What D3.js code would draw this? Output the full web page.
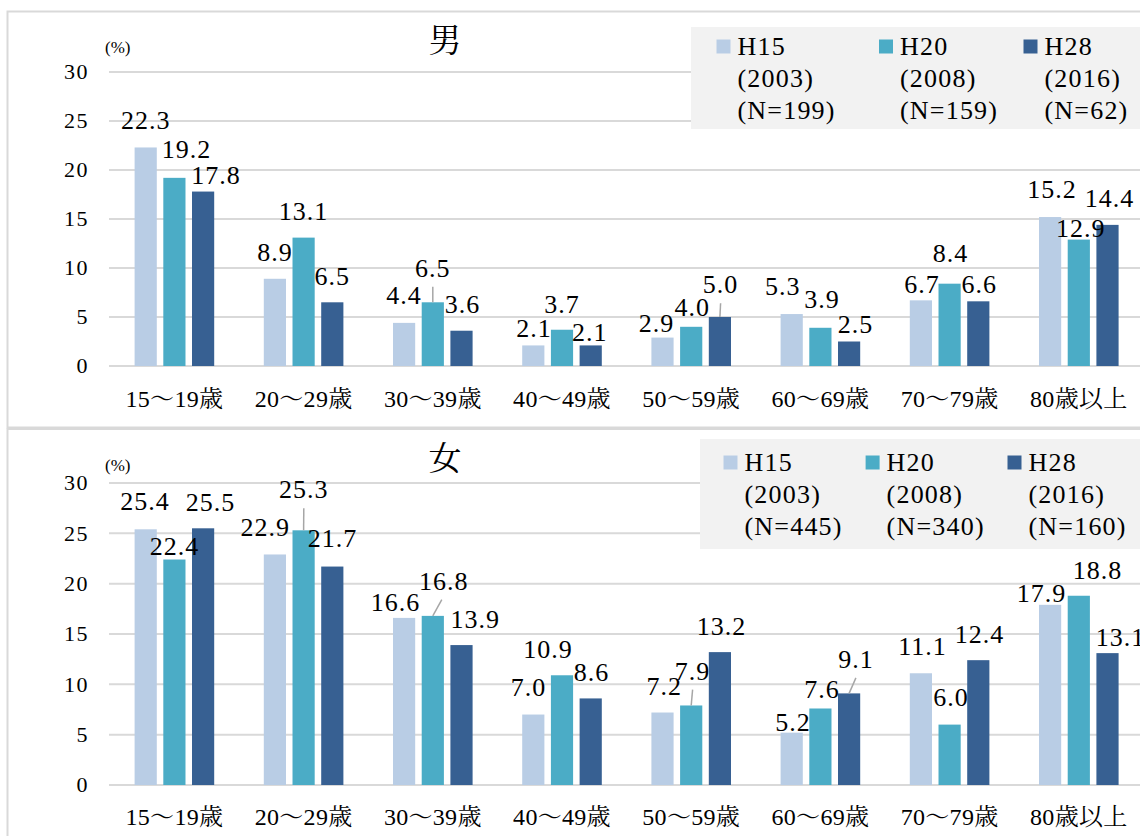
<!DOCTYPE html>
<html>
<head>
<meta charset="utf-8">
<script src="https://cdn.jsdelivr.net/npm/d3@7"></script>
<style>
  html, body { margin: 0; padding: 0; background: #fff; }
  svg { display: block; }
</style>
</head>
<body>
<svg id="chart" width="1140" height="836"></svg>
<script>
// ---------------- data ----------------
const categories = ["15〜19歳", "20〜29歳", "30〜39歳", "40〜49歳", "50〜59歳", "60〜69歳", "70〜79歳", "80歳以上"];
const seriesKeys = ["H15", "H20", "H28"];
const seriesYears = ["(2003)", "(2008)", "(2016)"];
const maleN = ["(N=199)", "(N=159)", "(N=62)"];
const femaleN = ["(N=445)", "(N=340)", "(N=160)"];
const maleH15 = [22.3, 8.9, 4.4, 2.1, 2.9, 5.3, 6.7, 15.2];
const maleH20 = [19.2, 13.1, 6.5, 3.7, 4.0, 3.9, 8.4, 12.9];
const maleH28 = [17.8, 6.5, 3.6, 2.1, 5.0, 2.5, 6.6, 14.4];
const femaleH15 = [25.4, 22.9, 16.6, 7.0, 7.2, 5.2, 11.1, 17.9];
const femaleH20 = [22.4, 25.3, 16.8, 10.9, 7.9, 7.6, 6.0, 18.8];
const femaleH28 = [25.5, 21.7, 13.9, 8.6, 13.2, 9.1, 12.4, 13.1];
const yTicks = [0, 5, 10, 15, 20, 25, 30];
const colors = ["#b9cde5", "#4bacc6", "#376092"];

// ---------------- layout (label nudges: [dx, baseline offset from bar top]) ----------------
const maleNudge = [
  [[0, -18.5], [12, -20], [13, -7.6]],
  [[0, -17.8], [0, -17.6], [0, -17.3]],
  [[0, -18.6], [0, -25.6], [1, -17.4]],
  [[0.6, -8], [0, -16.7], [-1, -4.7]],
  [[-6, -6], [1, -10.8], [0.7, -23.7]],
  [[-9, -19], [1.6, -19.5], [6.5, -8.2]],
  [[1, -7.6], [1, -22], [1, -8]],
  [[2, -18.7], [2, -2.3], [2, -18.2]]
];
const femaleNudge = [
  [[-0.7, -19], [0, -5], [7.4, -17.8]],
  [[-9.7, -18.4], [0.2, -32], [0.3, -19.5]],
  [[-8.5, -7.3], [11, -26.3], [13.8, -17.2]],
  [[-4.7, -18.3], [-14, -17.4], [0.7, -17.2]],
  [[1.8, -17.3], [1.4, -25.8], [1.7, -17.5]],
  [[1.3, -1.4], [1.6, -10], [6.8, -25.5]],
  [[1.5, -18.7], [1.5, -18.4], [1.3, -17.3]],
  [[-8.5, -2.7], [18.6, -16.3], [13, -7]]
];
const maleLeaders = [[2, 1], [4, 2]];
const femaleLeaders = [[1, 1], [2, 1], [4, 1], [5, 2]];

const NUM_FONT = "'Liberation Serif', 'Noto Serif CJK JP', serif";
const CJK_FONT = "'Noto Serif CJK JP', 'Liberation Serif', serif";

const panels = [
  {
    title: "男", series: [maleH15, maleH20, maleH28], nLabels: maleN, nudge: maleNudge, leaders: maleLeaders,
    frameY: 11.5, frameH: 416, yRange: [366, 72], catBaseline: 407, titleY: 52, pctY: 53,
    legend: { x: 691, y: 27, h: 102, items: [716.5, 879, 1023.5], sqY: 39.5, lines: [55, 87, 119] }
  },
  {
    title: "女", series: [femaleH15, femaleH20, femaleH28], nLabels: femaleN, nudge: femaleNudge, leaders: femaleLeaders,
    frameY: 429, frameH: 420, yRange: [785, 483], catBaseline: 825, titleY: 470, pctY: 471,
    legend: { x: 700, y: 439, h: 110, items: [723.5, 865.6, 1007.5], sqY: 455.5, lines: [471, 503, 535] }
  }
];

const svg = d3.select("#chart");
const x0 = d3.scaleBand().domain(categories).range([109.8, 1143.4]).paddingInner(0.384).paddingOuter(0.192);
const x1 = d3.scaleBand().domain(seriesKeys).range([0, x0.bandwidth()]).paddingInner(0.227);
const fmt = d3.format(".1f");

panels.forEach(p => {
  const g = svg.append("g");
  const y = d3.scaleLinear().domain([0, 30]).range(p.yRange);

  // frame
  g.append("rect").attr("x", 7.5).attr("y", p.frameY).attr("width", 1150).attr("height", p.frameH)
    .attr("fill", "#fff").attr("stroke", "#d9d9d9").attr("stroke-width", 2);

  // gridlines
  g.selectAll(".grid").data(yTicks).enter().append("line")
    .attr("x1", 109).attr("x2", 1145)
    .attr("y1", d => y(d)).attr("y2", d => y(d))
    .attr("stroke", "#d9d9d9").attr("stroke-width", 2);

  // y tick labels
  g.selectAll(".ytick").data(yTicks).enter().append("text")
    .attr("font-family", NUM_FONT)
    .attr("x", 89).attr("y", d => y(d)).attr("dy", "0.34em")
    .attr("text-anchor", "end").attr("font-size", 22).attr("letter-spacing", 1.5)
    .attr("fill", "#000").text(d => d);

  // (%)
  g.append("text").attr("font-family", NUM_FONT).attr("x", 105).attr("y", p.pctY)
    .attr("font-size", 17).attr("fill", "#000").text("(%)");

  // title
  g.append("text").attr("x", 445).attr("y", p.titleY).attr("text-anchor", "middle")
    .attr("font-family", CJK_FONT).attr("font-size", 33)
    .attr("fill", "#000").text(p.title);

  // legend
  const L = p.legend;
  g.append("rect").attr("x", L.x).attr("y", L.y).attr("width", 1140 - L.x + 10).attr("height", L.h).attr("fill", "#f2f2f2");
  seriesKeys.forEach((k, i) => {
    g.append("rect").attr("x", L.items[i]).attr("y", L.sqY).attr("width", 14).attr("height", 14).attr("fill", colors[i]);
    const lines = [k, seriesYears[i], p.nLabels[i]];
    lines.forEach((t, j) => {
      g.append("text").attr("font-family", NUM_FONT).attr("x", L.items[i] + 21).attr("y", L.lines[j])
        .attr("font-size", 26).attr("letter-spacing", 1.2).attr("fill", "#000").text(t);
    });
  });

  // bars
  const rows = [];
  categories.forEach((c, ci) => {
    seriesKeys.forEach((k, si) => {
      rows.push({ c, ci, k, si, v: p.series[si][ci] });
    });
  });
  const bx = d => x0(d.c) + x1(d.k);
  const bc = d => bx(d) + x1.bandwidth() / 2;

  g.selectAll(".bar").data(rows).enter().append("rect")
    .attr("x", bx).attr("width", x1.bandwidth())
    .attr("y", d => y(d.v)).attr("height", d => y(0) - y(d.v))
    .attr("fill", d => colors[d.si]);

  // leader lines
  p.leaders.forEach(([ci, si]) => {
    const d = rows.find(r => r.ci === ci && r.si === si);
    const n = p.nudge[ci][si];
    const lx = bc(d) + Math.min(n[0], 9);
    const ly = y(d.v) + n[1] + 10;
    g.append("line").attr("x1", bc(d)).attr("y1", y(d.v)).attr("x2", lx).attr("y2", ly)
      .attr("stroke", "#a6a6a6").attr("stroke-width", 1.5);
  });

  // value labels
  g.selectAll(".val").data(rows).enter().append("text")
    .attr("font-family", NUM_FONT)
    .attr("x", d => bc(d) + p.nudge[d.ci][d.si][0])
    .attr("y", d => y(d.v) + p.nudge[d.ci][d.si][1])
    .attr("text-anchor", "middle").attr("font-size", 26).attr("letter-spacing", 1)
    .attr("fill", "#000").text(d => fmt(d.v));

  // category labels
  g.selectAll(".cat").data(categories).enter().append("text")
    .attr("font-family", NUM_FONT)
    .attr("x", d => x0(d) + x0.bandwidth() / 2).attr("y", p.catBaseline)
    .attr("text-anchor", "middle").attr("font-size", 24).attr("letter-spacing", 0.3)
    .attr("fill", "#000").text(d => d);
});
</script>
</body>
</html>
